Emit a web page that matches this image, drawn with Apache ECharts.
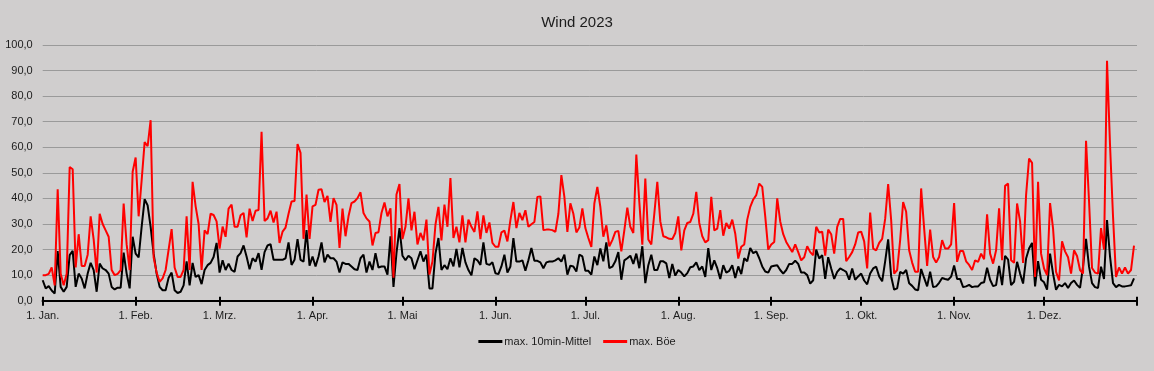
<!DOCTYPE html>
<html><head><meta charset="utf-8">
<script src="https://cdn.jsdelivr.net/npm/echarts@6/dist/echarts.min.js"></script>
<style>html,body{margin:0;padding:0;background:#d0cece}#c{width:1154px;height:371px}</style>
</head><body><div id="c"></div>
<script>
const title = "Wind 2023";
const seriesNames = ["max. 10min-Mittel", "max. Böe"];
const monthLabels = ["1. Jan.","1. Feb.","1. Mrz.","1. Apr.","1. Mai","1. Jun.","1. Jul.","1. Aug.","1. Sep.","1. Okt.","1. Nov.","1. Dez."];
const monthDays = [31,28,31,30,31,30,31,31,30,31,30,31];
const yTicks = [0,10,20,30,40,50,60,70,80,90,100];

// max. Böe (daily, 1 Jan - 31 Dec 2023)
const gust = [
10,10,10.5,13,6,43.6,10.5,6,10.5,52.3,
51.4,13,26,13.6,13.6,18,33,24,11,34,
30,27.5,25,12,10,10.5,12,38,22,12,
50.4,56,33,47,62,60.4,70.6,17,11,7.4,
8.7,12,20,28,13,9.3,9.3,12,33,12,
46.5,37,30,12,27.5,26,34,33.5,31,20.4,
29,25,36,37.6,28.9,28.9,33.4,34.3,24.8,36,
31.2,35.2,35.5,66.1,31.2,32.2,35.2,30.6,34.8,22.6,
27,28.6,34,38.8,39,61.3,57.8,24.2,41.5,24.2,
36.9,37.5,43.4,43.6,38.6,41,30.8,40.1,37.5,20.6,
36,25.2,33,38.2,38.8,40.1,42.4,34.3,32.2,31,
21.6,26.5,26.8,34.3,38.4,33,36.1,9,41.5,45.6,
24.1,28.9,40,27.5,34.8,22,26.5,23.6,31.7,10.2,
15.3,29.7,36.7,23.6,37.6,28.9,48,24.5,28.9,22.8,
33.4,22.8,31.7,28.9,26.9,34.9,24.1,33.4,26.5,30.6,
22.6,21.1,21.1,26.7,27.4,23.2,31.5,38.6,28.4,34.3,
31.5,35.4,28.9,29.9,30.8,40.6,40.8,27.6,27.8,27.8,
27.6,26.9,34,49.1,40.6,26.9,38.1,34,26.7,28.6,
36.1,28.4,24.5,21,38,44.5,36.7,25,29.5,21.3,
23.7,26.9,27.3,19.3,27.5,36.4,28.9,26.5,57.2,38.6,
21.9,47.8,23.9,22,34,46.5,31,25.2,24.8,24.2,
24.1,26.5,33,19.7,27.5,30.4,30.8,34,42.6,30.4,
25.2,22.8,23.7,40.6,27.5,28.2,35.4,25.4,30.4,28.2,
31.7,26.2,16.5,21.1,22,31.7,36.7,39.6,41.3,45.8,
44.5,33,20,22,23,40,31,26,23,21,
19,22,19,15.8,17,21.3,19,17.8,28.9,26.7,
27,17.6,27.8,26,18.4,28.9,32,32,15.5,17.1,
19,22,26.7,27,23.2,12.6,34.5,20.4,19.7,22.6,
24.2,32,45.6,31.5,10.6,12,23.7,38.6,34.8,19.7,
14.9,11.3,11.3,43.9,28.3,13.6,27.8,17.1,14.9,17.1,
23.7,20.4,20.4,22,38.2,15.2,19.4,19.4,15.4,14,
12,15.8,15.2,18.4,16.2,33.8,18.4,14.5,19.7,36.1,
15.8,44.9,45.8,15.8,14.8,38,31,14.8,41.3,55.6,
53.9,9.3,46.5,18.4,12.6,10,38.2,28.3,11.3,7.9,
23.2,19.3,17,10.6,19.7,17.5,12,10.6,62.5,39,
12.8,11,10.6,28.4,20,93.8,61,33,9.3,13,
10.6,13,10.6,12,21.5
];

// max. 10min-Mittel (daily)
const mean = [
8,4.8,5.7,4,2.8,19.4,5.4,3.5,5.4,17.8,
19.5,5.4,10.6,8.7,4.8,10.6,14.8,12,3.5,14.5,
12.6,12,10.6,5.4,4.4,5.1,5.1,18.8,10.6,4.8,
25,18.4,16.9,28.9,39.7,37.3,28.9,18.4,10.6,5.4,
4.1,4.1,9,11,4.1,3,3.5,6,15.4,6,
14.8,9.3,10,6.5,12,13.9,14.8,17.1,22.6,11,
15.8,12,14.5,12,11.3,17.3,18.6,21.6,17.3,12.3,
16.6,15.3,18.6,12.1,19,21.6,22.1,16,16,16,
16,16.6,22.8,14,16,24.1,16,15.3,27.6,13.7,
17.3,13.4,17.3,22.8,15,18,16.6,16.6,15.3,11,
15,14.4,14.4,13.4,12.3,12,16.6,18,11,15.3,
12,18.6,13,13.4,13.4,10.2,25.2,5.4,18.6,28.4,
17.6,15.8,17.6,16.6,12.3,15.8,19.3,15.3,18,4.8,
4.8,18.4,24.5,12,13.9,12.3,16.6,13.4,20.3,13,
20.6,15,12,9.9,16.6,15.8,14,22.8,14.4,14,
15,10.7,10.4,13.4,18,11,13.4,24.5,15.3,15.3,
15.8,11.7,15.8,20.6,15.6,15.6,15,12.7,15,15.3,
15.3,15.8,16.6,15.3,18,10.2,13.7,13.4,11.4,18,
17.3,11.7,11.7,10.2,17.3,13.9,20.4,15.4,22.8,12.7,
13.3,15.4,19,8.2,15.8,16.6,17.6,14.4,18.4,12.7,
21.3,6.9,13.9,18,12,12,15.4,15.4,14.6,8.9,
14.4,9.8,12,11,9.5,10.8,13.1,13.4,15,12,
13.4,9.3,20.6,12,15.8,12.7,8.5,13.9,11,11.7,
13.9,8.9,13.4,10.4,16.6,15.4,20.6,18.6,19.3,16.6,
13.4,11.4,11,13.4,13.7,13.9,12,10.6,12,14.4,
14.4,15.6,14.4,11,11,10,6.7,8,20,16.5,
17.8,8.5,17,12.6,8.5,11.3,12.6,12,11.3,8.2,
12.6,8.2,9.5,10.6,7.9,6.4,10.6,12.6,13.3,9.5,
7.6,15.4,24,9.5,4.3,4.8,11.3,10.6,12,6.8,
5.8,4.4,4.1,12.4,8.9,5.6,11.3,5.3,5.6,7,
8.9,8.5,8.2,9.4,13.8,8.5,8.5,5.3,5.6,6.2,
5.3,5.6,5.6,6.9,7.2,12.9,8.2,5.7,6.1,13.6,
6.1,17.5,16.1,6.1,7.4,15.2,10.6,6.7,16.5,20.4,
22.6,5.6,15.5,8.2,7.2,4.3,18.4,10.6,4.3,6.2,
5.6,6.9,5,6.9,7.9,6.2,5,13.3,24.2,13.3,
6.9,5.3,5,13.3,8.5,31.5,17.3,6.9,5.3,6.2,
5.6,5.6,5.8,6,8.7
];

if (gust.length !== 365 || mean.length !== 365) throw new Error('len ' + gust.length + ' ' + mean.length);

// categories: each day of 2023 plus the closing 1 Jan 2024 (axis end)
const cats = [];
const labelAt = {};
let idx = 0;
monthDays.forEach((n, m) => {
  labelAt[idx] = monthLabels[m];
  for (let d = 0; d < n; d++) { cats.push(String(idx)); idx++; }
});
cats.push(String(idx));
const tickIdx = new Set(Object.keys(labelAt).map(Number)); tickIdx.add(365);

const font = "Liberation Sans";
const txt = '#1c1c1c';
const chart = echarts.init(document.getElementById('c'), null, {renderer: 'canvas'});
const xBase = {
  type: 'category', data: cats, boundaryGap: false,
  axisLine: {show: true, lineStyle: {color: '#000', width: 2}},
  splitLine: {show: false}
};
chart.setOption({
  backgroundColor: '#d0cece',
  animation: false,
  textStyle: {fontFamily: font},
  title: {text: title, left: 'center', top: 10,
    textStyle: {fontFamily: font, fontSize: 15, fontWeight: 'normal', color: txt}},
  legend: {
    bottom: 19, left: 'center', itemGap: 12, itemWidth: 24, itemHeight: 3, icon: 'rect',
    textStyle: {fontFamily: font, fontSize: 11, color: txt, padding: [0,0,0,-3]},
    data: seriesNames
  },
  grid: {left: 42.7, right: 17, top: 45, bottom: 70.3, containLabel: false},
  xAxis: [
    Object.assign({}, xBase, {
      axisTick: {show: true, length: 5, lineStyle: {color: '#000', width: 2},
        interval: (i) => tickIdx.has(i)},
      axisLabel: {show: true, interval: (i) => labelAt[i] !== undefined, margin: 10,
        formatter: (v, i) => labelAt[i] || '', fontFamily: font, fontSize: 11, color: txt}
    }),
    Object.assign({}, xBase, {
      position: 'bottom',
      axisTick: {show: true, inside: true, length: 4, lineStyle: {color: '#000', width: 2},
        interval: (i) => tickIdx.has(i)},
      axisLabel: {show: false}
    })
  ],
  yAxis: {
    type: 'value', min: yTicks[0], max: yTicks[yTicks.length-1], interval: 10,
    axisLine: {show: false}, axisTick: {show: false},
    axisLabel: {margin: 10, fontFamily: font, fontSize: 11, color: txt,
      formatter: (v) => v.toFixed(1).replace('.', ',')},
    splitLine: {show: true, lineStyle: {color: '#9a9a9a', width: 1}}
  },
  series: [
    {name: seriesNames[0], type: 'line', data: mean, showSymbol: false, symbol: 'none',
      itemStyle: {color: '#000000'}, lineStyle: {color: '#000000', width: 2}, z: 3},
    {name: seriesNames[1], type: 'line', data: gust, showSymbol: false, symbol: 'none',
      itemStyle: {color: '#ff0000'}, lineStyle: {color: '#ff0000', width: 2}, z: 4}
  ]
});
</script>
</body></html>
